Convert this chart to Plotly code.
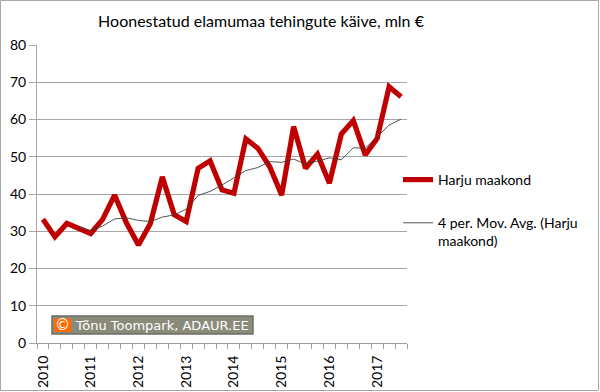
import plotly.graph_objects as go

# ---- data ----
years = ["2010", "2011", "2012", "2013", "2014", "2015", "2016", "2017"]
quarters = list(range(31))  # 2010 Q1 .. 2017 Q3
harju = [33.2, 28.5, 32.1, 30.8, 29.4, 33.2, 39.7, 32.2, 26.3, 32.1, 44.6,
         34.4, 32.6, 46.9, 48.9, 41.1, 40.2, 54.8, 52.3, 47.3, 39.7, 58.1,
         46.9, 50.7, 42.9, 56.1, 59.7, 50.5, 54.9, 68.8, 66.1]
mov_avg = [None, None, None, 31.2, 30.2, 31.4, 33.3, 33.6, 32.9, 32.6, 33.8,
           34.4, 35.9, 39.6, 40.7, 42.4, 44.3, 46.3, 47.1, 48.7, 48.5, 49.4,
           48.0, 48.9, 49.7, 49.2, 52.4, 52.3, 55.3, 58.5, 60.1]
series_names = ["Harju maakond", "4 per. Mov. Avg. (Harju<br>maakond)"]
title_text = "Hoonestatud elamumaa tehingute käive, mln €"
credit_text = "Tõnu Toompark, ADAUR.EE"

# ---- layout geometry (pixels) ----
W, H = 600, 392
L, R, T, B = 37, 407, 45, 343


def px(x):
    return (x - L) / (R - L)


def py(y):
    return (B - y) / (B - T)


FONT = "Lato, Carlito, Calibri, sans-serif"

fig = go.Figure()
fig.add_trace(go.Scatter(
    x=quarters, y=harju, mode="lines", name=series_names[0],
    line=dict(color="#c00000", width=5.2, shape="linear"),
    legendgroup="a"))
fig.add_trace(go.Scatter(
    x=quarters, y=mov_avg, mode="lines", name=series_names[1],
    line=dict(color="#404040", width=0.9),
    legendgroup="b"))

tickpos = [4 * i for i in range(len(years))]

fig.update_layout(
    template="none",
    width=W, height=H,
    margin=dict(l=L, r=W - R, t=T, b=H - B, autoexpand=False),
    paper_bgcolor="white", plot_bgcolor="white",
    font=dict(family=FONT, size=14, color="#000000"),
    title=dict(text=title_text, x=px(261), xref="paper", xanchor="center",
               y=1 - 21 / H, yanchor="middle",
               font=dict(family=FONT, size=16, color="#000000")),
    xaxis=dict(
        automargin=False,
        range=[-0.5, 30.5], tickmode="array", tickvals=tickpos, ticktext=years,
        tickangle=-90, ticks="outside", ticklen=6, tickcolor="rgba(0,0,0,0)",
        showgrid=False, zeroline=False,
        showline=True, linecolor="#a0a0a0", linewidth=1,
        tickfont=dict(family=FONT, size=14),
        minor=dict(ticks="outside", ticklen=5, tickcolor="#a0a0a0",
                   tickmode="array", tickvals=[i - 0.5 for i in range(32)],
                   showgrid=False),
    ),
    yaxis=dict(
        automargin=False,
        range=[0, 80], dtick=10, tick0=0, showgrid=True, gridcolor="#a6a6a6",
        gridwidth=1, zeroline=False, showline=True, linecolor="#a6a6a6",
        ticks="outside", ticklen=7, tickcolor="#a6a6a6",
        tickfont=dict(family=FONT, size=14),
    ),
    legend=dict(x=px(398), y=py(164), xanchor="left", yanchor="top",
                xref="paper", yref="paper", tracegroupgap=22, valign="top",
                font=dict(family=FONT, size=14), bgcolor="rgba(0,0,0,0)"),
    showlegend=True,
)

# outer chart border
fig.add_shape(type="rect", xref="paper", yref="paper",
              x0=px(0.5), x1=px(598.5), y0=py(390.5), y1=py(0.5),
              line=dict(color="#a6a6a6", width=1), fillcolor="rgba(0,0,0,0)",
              layer="below")

# credit box
fig.add_shape(type="rect", xref="paper", yref="paper",
              x0=px(52), x1=px(253), y0=py(334), y1=py(316),
              line=dict(color="#6e6e66", width=1.5), fillcolor="#8b8b7b")
fig.add_shape(type="rect", xref="paper", yref="paper",
              x0=px(54), x1=px(71), y0=py(332), y1=py(318.5),
              line=dict(width=0), fillcolor="#ff6a00")
fig.add_annotation(text="©", xref="paper", yref="paper", x=px(62.5), y=py(325),
                   xanchor="center", yanchor="middle", showarrow=False,
                   font=dict(family="DejaVu Sans", size=15, color="white"))
fig.add_annotation(text=credit_text, xref="paper", yref="paper", x=px(73),
                   y=py(325), xanchor="left", yanchor="middle", showarrow=False,
                   font=dict(family="DejaVu Sans", size=13, color="white"))

fig.write_html("out.html",
               config={"displayModeBar": False},
               post_script="document.body.style.margin='0';"
                           "document.body.style.padding='0';"
                           "document.body.style.overflow='hidden';")
